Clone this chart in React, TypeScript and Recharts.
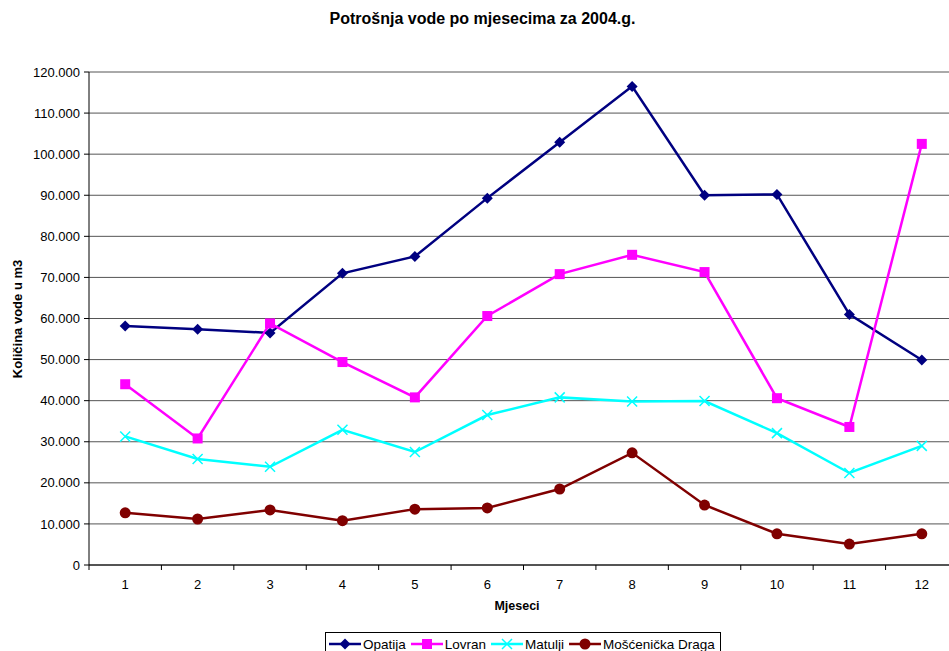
import React from "react";
import { CartesianGrid, Line, LineChart, XAxis, YAxis } from "recharts";

const months = [1, 2, 3, 4, 5, 6, 7, 8, 9, 10, 11, 12];
const opatija = [58200, 57400, 56500, 71000, 75100, 89300, 102900, 116500, 90000, 90200, 61000, 49900];
const lovran = [44000, 30800, 58800, 49400, 40800, 60600, 70800, 75500, 71300, 40600, 33600, 102500];
const matulji = [31300, 25800, 23900, 32900, 27500, 36500, 40800, 39800, 39900, 32100, 22400, 29000];
const draga = [12700, 11200, 13400, 10800, 13600, 13900, 18500, 27300, 14600, 7600, 5100, 7600];

const yTicks = [0, 10000, 20000, 30000, 40000, 50000, 60000, 70000, 80000, 90000, 100000, 110000, 120000];
const bandEdges = [0.5, 1.5, 2.5, 3.5, 4.5, 5.5, 6.5, 7.5, 8.5, 9.5, 10.5, 11.5, 12.5];

type Marker = "diamond" | "square" | "cross" | "circle";
type Series = { key: string; name: string; color: string; marker: Marker; values: number[] };

const series: Series[] = [
  { key: "opatija", name: "Opatija", color: "#000080", marker: "diamond", values: opatija },
  { key: "lovran", name: "Lovran", color: "#FF00FF", marker: "square", values: lovran },
  { key: "matulji", name: "Matulji", color: "#00FFFF", marker: "cross", values: matulji },
  { key: "draga", name: "Mošćenička Draga", color: "#800000", marker: "circle", values: draga },
];

const data = months.map((m, i) => {
  const row: Record<string, number> = { month: m };
  series.forEach((s) => {
    row[s.key] = s.values[i];
  });
  return row;
});

const font = "'Liberation Sans', Arial, sans-serif";

function markerShape(marker: Marker, color: string, cx: number, cy: number, key?: React.Key) {
  if (marker === "diamond") {
    return (
      <path key={key} d={`M${cx},${cy - 5.5}L${cx + 5.5},${cy}L${cx},${cy + 5.5}L${cx - 5.5},${cy}Z`} fill={color} />
    );
  }
  if (marker === "square") {
    return <rect key={key} x={cx - 5} y={cy - 5} width={10} height={10} fill={color} />;
  }
  if (marker === "cross") {
    return (
      <path
        key={key}
        d={`M${cx - 5},${cy - 5}L${cx + 5},${cy + 5}M${cx - 5},${cy + 5}L${cx + 5},${cy - 5}`}
        stroke={color}
        strokeWidth={1.5}
        fill="none"
      />
    );
  }
  return <circle key={key} cx={cx} cy={cy} r={5.5} fill={color} />;
}

const fmt = (v: number) => (v === 0 ? "0" : v.toLocaleString("de-DE"));

export default function App() {
  return (
    <div
      style={{
        position: "absolute",
        left: 0,
        top: 0,
        width: 949,
        height: 651,
        overflow: "hidden",
        background: "#fff",
        fontFamily: font,
      }}
    >
      <div
        style={{
          position: "absolute",
          left: 0,
          width: 965,
          top: 10,
          textAlign: "center",
          fontWeight: "bold",
          fontSize: 16,
        }}
      >
        Potrošnja vode po mjesecima za 2004.g.
      </div>
      <div
        style={{
          position: "absolute",
          left: 17,
          top: 319,
          transform: "translate(-50%, -50%) rotate(-90deg)",
          whiteSpace: "nowrap",
          fontWeight: "bold",
          fontSize: 13,
        }}
      >
        Količina vode u m3
      </div>
      <div
        style={{
          position: "absolute",
          left: 517,
          top: 606,
          transform: "translate(-50%, -50%)",
          fontWeight: "bold",
          fontSize: 12.5,
        }}
      >
        Mjeseci
      </div>

      <LineChart
        width={980}
        height={651}
        data={data}
        margin={{ top: 72, right: 22, left: 29, bottom: 48 }}
        style={{ position: "absolute", left: 0, top: 0 }}
      >
        <CartesianGrid xAxisId="b" horizontal vertical={false} stroke="#555" />
        <XAxis
          xAxisId="b"
          dataKey="month"
          type="number"
          domain={[0.5, 12.5]}
          ticks={months}
          height={30}
          tickSize={0}
          tickMargin={7}
          axisLine={false}
          tickLine={false}
          tick={{ fill: "#000", fontSize: 13, fontFamily: font }}
        />
        <XAxis
          xAxisId="a"
          dataKey="month"
          type="number"
          domain={[0.5, 12.5]}
          ticks={bandEdges}
          height={8}
          tickSize={5}
          tickFormatter={() => ""}
          axisLine={{ stroke: "#000" }}
          tickLine={{ stroke: "#000" }}
        />
        <YAxis
          domain={[0, 120000]}
          ticks={yTicks}
          width={60}
          tickSize={5}
          tickMargin={4}
          tickFormatter={fmt}
          axisLine={{ stroke: "#000" }}
          tickLine={{ stroke: "#000" }}
          tick={{ fill: "#000", fontSize: 13, fontFamily: font }}
        />
        {series.map((s) => (
          <Line
            key={s.key}
            xAxisId="b"
            dataKey={s.key}
            name={s.name}
            stroke={s.color}
            strokeWidth={2.5}
            isAnimationActive={false}
            dot={(p: any) => markerShape(s.marker, s.color, p.cx, p.cy, `${s.key}-${p.index}`)}
            activeDot={false}
          />
        ))}
      </LineChart>

      <div
        style={{
          position: "absolute",
          left: 325,
          top: 632,
          width: 396,
          height: 24,
          border: "1px solid #000",
          boxSizing: "border-box",
          display: "flex",
          alignItems: "center",
          paddingLeft: 3,
          fontSize: 13.5,
        }}
      >
        {series.map((s) => (
          <div key={s.key} style={{ display: "flex", alignItems: "center", marginRight: 5 }}>
            <svg width={32} height={14} style={{ display: "block" }}>
              <line x1={0} y1={7} x2={32} y2={7} stroke={s.color} strokeWidth={2.5} />
              {markerShape(s.marker, s.color, 16, 7)}
            </svg>
            <span style={{ marginLeft: 2 }}>{s.name}</span>
          </div>
        ))}
      </div>
    </div>
  );
}
